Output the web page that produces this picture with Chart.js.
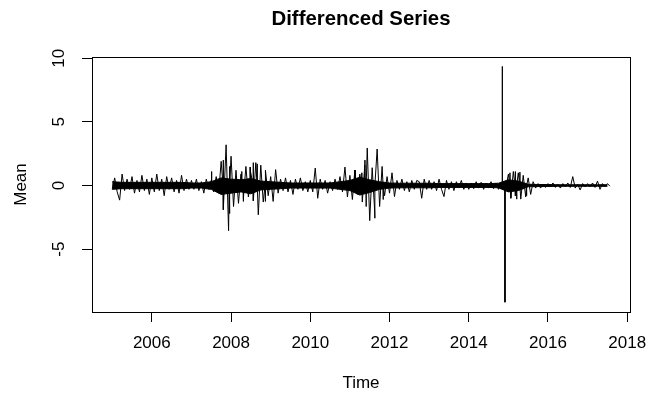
<!DOCTYPE html>
<html>
<head>
<meta charset="utf-8">
<script src="https://cdn.jsdelivr.net/npm/chart.js@4"></script>
<style>
  html, body { margin: 0; padding: 0; background: #fff; }
  canvas { display: block; }
</style>
</head>
<body>
<canvas id="diffChart" width="663" height="394"></canvas>
<script>
// series as a ts: start + frequency (one row per year)
const tsStart = 2005;
const tsFrequency = 16;
const diffValues = [
  -0.3, 0.6, -0.5, -1.15, 0.9, -0.4, 0.5, -0.3, 0.7, -0.6, 0.4, -0.5, 0.8, -0.4, 0.5, -0.7,   // 2005
  0.6, -0.5, 0.9, -0.4, 0.5, -0.8, 0.7, -0.3, 0.6, -0.5, 0.4, -0.6, 0.8, -0.4, 0.5, -0.3,     // 2006
  0.4, -0.3, 0.5, -0.4, 0.3, -0.6, 0.5, -0.3, 0.4, -0.5, 0.7, -0.6, 1.9, -1.9, 3.2, -3.55,    // 2007
  2.3, -1.65, 1.2, -1.4, 0.9, -1.0, 1.5, -0.9, 1.1, -1.2, 1.8, -2.3, 1.6, -1.3, 1.2, -0.8,    // 2008
  0.7, -1.25, 1.25, -0.6, 0.5, -0.4, 0.6, -0.5, 0.4, -0.7, 0.5, -0.3, 0.6, -0.4, 0.3, -0.5,   // 2009
  0.4, -0.5, 1.37, -1.0, 0.5, -0.3, 0.4, -0.6, 0.3, -0.4, 0.5, -0.3, 0.7, -0.5, 1.45, -0.9,   // 2010
  0.8, -1.1, 1.2, -0.7, 0.9, -1.3, 1.6, 2.95, -2.76, 1.4, -2.0, 2.87, -1.65, 1.5, -0.8, 0.7,  // 2011
  -0.6, 1.0, -0.87, 0.4, -0.3, 0.5, -0.4, 0.3, -0.5, 0.4, -0.3, 0.4, 0.3, -1.0, 0.5, -0.3,    // 2012
  0.4, -0.3, 0.3, -0.4, 0.5, -0.3, -0.87, 0.4, -0.3, 0.3, -0.4, 0.3, -0.2, 0.4, -0.3, 0.2,    // 2013
  -0.3, 0.2, -0.25, 0.3, -0.2, 0.25, -0.3, 0.2, -0.2, 0.3, -0.25, 0.2, -0.3, 0.25, 0.2, -0.2, // 2014
  0.9, -1.0, 1.1, -0.8, 1.0, -1.07, 0.8, -0.9, 0.6, -0.7, 0.3, -0.2, 0.15, -0.2, 0.1, -0.15,  // 2015
  0.15, -0.1, 0.2, -0.15, 0.1, -0.2, 0.15, -0.1, 0.2, -0.15, 0.7, -0.2, 0.1, -0.35, 0.15, -0.1, // 2016
  0.15, -0.1, 0.2, -0.15, 0.35, -0.3, 0.15, -0.1, 0.15, -0.05                                 // 2017
];

// the big outlier jump (up, then back down a few weeks later)
const outlierTimes = [2014.843, 2014.846, 2014.849, 2014.911, 2014.914, 2014.917];
const outlierValues = [0.1, 9.36, -0.1, 0.1, -9.17, 0.1];

// single-day spikes inside the volatile stretches
const spikeTimes = [
  2007.51, 2007.80, 2007.955, 2007.97, 2008.27, 2008.31, 2008.48, 2008.56, 2008.66, 2008.86, 2008.87,
  2011.13, 2011.30, 2011.38, 2011.41, 2011.63, 2011.84,
  2015.04, 2015.17, 2015.21, 2015.29, 2015.46
];
const spikeValues = [
  1.1, 2.0, -2.2, 1.5, 1.1, -1.25, 1.45, 1.8, 1.7, 0.8, -1.25,
  1.2, 1.0, 2.0, -1.65, -2.57, -1.1,
  1.0, 1.1, -1.07, 1.05, -0.8
];

// the solid black core of the daily noise, read per quarter
const coreStart = 2005;
const coreFrequency = 4;
const coreUpper = [
  0.3, 0.25, 0.25, 0.25,    // 2005
  0.25, 0.25, 0.25, 0.25,   // 2006
  0.2, 0.2, 0.3, 0.6,       // 2007
  0.5, 0.45, 0.55, 0.35,    // 2008
  0.3, 0.25, 0.2, 0.2,      // 2009
  0.2, 0.2, 0.2, 0.3,       // 2010
  0.4, 0.65, 0.45, 0.3,     // 2011
  0.2, 0.18, 0.18, 0.18,    // 2012
  0.18, 0.15, 0.15, 0.15,   // 2013
  0.15, 0.15, 0.15, 0.18,   // 2014
  0.45, 0.35, 0.1, 0.08,    // 2015
  0.08, 0.06, 0.06, 0.06,   // 2016
  0.06, 0.06, 0.06          // 2017
];
const coreLower = [
  -0.3, -0.25, -0.25, -0.25,
  -0.25, -0.25, -0.25, -0.25,
  -0.2, -0.2, -0.3, -0.7,
  -0.6, -0.5, -0.65, -0.35,
  -0.3, -0.25, -0.2, -0.2,
  -0.2, -0.2, -0.2, -0.3,
  -0.4, -0.75, -0.55, -0.3,
  -0.2, -0.18, -0.18, -0.18,
  -0.18, -0.15, -0.15, -0.15,
  -0.15, -0.15, -0.15, -0.18,
  -0.5, -0.4, -0.1, -0.08,
  -0.08, -0.06, -0.06, -0.06,
  -0.06, -0.06, -0.06
];

const xTicks = [2006, 2008, 2010, 2012, 2014, 2016, 2018];
const yTicks = [-5, 0, 5, 10];

const FONT = "'Liberation Sans', Arial, sans-serif";

// build the point lists
let points = diffValues.map((v, i) => ({ x: tsStart + i / tsFrequency, y: v }));
outlierTimes.forEach((t, i) => points.push({ x: t, y: outlierValues[i] }));
// a spike leaves the zero line and comes straight back the next day
spikeTimes.forEach((t, i) => {
    points.push({ x: t - 0.002, y: 0 });
    points.push({ x: t, y: spikeValues[i] });
    points.push({ x: t + 0.002, y: 0 });
});
points.sort((a, b) => a.x - b.x);

const upperPts = coreUpper.map((v, i) => ({ x: coreStart + i / coreFrequency, y: v }));
const lowerPts = coreLower.map((v, i) => ({ x: coreStart + i / coreFrequency, y: v }));

// box around the plot region + main title over the plot, like R
const rPlotPlugin = {
    id: "rplot",
    afterDraw(chart) {
        const a = chart.chartArea;
        const ctx = chart.ctx;
        ctx.save();
        ctx.strokeStyle = "#000";
        ctx.lineWidth = 1;
        ctx.strokeRect(a.left + 0.5, a.top + 0.5, a.right - a.left, a.bottom - a.top);

        ctx.fillStyle = "#000";
        ctx.font = "bold 20.4px " + FONT;
        ctx.textAlign = "center";
        ctx.textBaseline = "middle";
        ctx.fillText("Differenced Series", (a.left + a.right) / 2, 19);
        ctx.restore();
    }
};

new Chart(document.getElementById("diffChart"), {
    type: "line",
    data: {
        datasets: [
            {
                label: "Differenced",
                data: points,
                borderColor: "#000",
                borderWidth: 1,
                pointRadius: 0,
                tension: 0,
                fill: false
            },
            {
                label: "core upper",
                data: upperPts,
                borderColor: "#000",
                borderWidth: 1,
                backgroundColor: "#000",
                pointRadius: 0,
                tension: 0,
                fill: "+1"
            },
            {
                label: "core lower",
                data: lowerPts,
                borderColor: "#000",
                borderWidth: 1,
                pointRadius: 0,
                tension: 0,
                fill: false
            }
        ]
    },
    options: {
        responsive: false,
        animation: false,
        devicePixelRatio: 1,
        layout: {
            padding: { top: 57, right: 33, bottom: 0, left: 0 }
        },
        plugins: {
            legend: { display: false },
            tooltip: { enabled: false },
            title: { display: false }
        },
        scales: {
            x: {
                type: "linear",
                min: 2004.49,
                max: 2018.07,
                afterBuildTicks: (scale) => {
                    scale.ticks = xTicks.map(v => ({ value: v }));
                },
                afterFit: (scale) => {
                    scale.height = 82;
                },
                grid: {
                    drawOnChartArea: false,
                    drawTicks: true,
                    tickLength: 10,
                    color: "#000"
                },
                border: { display: false },
                ticks: {
                    color: "#000",
                    font: { family: FONT, size: 17 },
                    padding: 11,
                    maxRotation: 0,
                    autoSkip: false,
                    callback: (v) => String(v)
                },
                title: {
                    display: true,
                    text: "Time",
                    color: "#000",
                    font: { family: FONT, size: 17, lineHeight: 1.2 },
                    padding: { top: 0, bottom: 0 }
                }
            },
            y: {
                type: "linear",
                min: -9.94,
                max: 10.1,
                afterBuildTicks: (scale) => {
                    scale.ticks = yTicks.map(v => ({ value: v }));
                },
                afterFit: (scale) => {
                    scale.width = 92;
                },
                grid: {
                    drawOnChartArea: false,
                    drawTicks: true,
                    tickLength: 10,
                    color: "#000"
                },
                border: { display: false },
                ticks: {
                    color: "#000",
                    font: { family: FONT, size: 17 },
                    padding: 13,
                    minRotation: 90,
                    maxRotation: 90,
                    crossAlign: "center",
                    autoSkip: false,
                    callback: (v) => String(v)
                },
                title: {
                    display: true,
                    text: "Mean",
                    color: "#000",
                    font: { family: FONT, size: 17, lineHeight: 1.2 },
                    padding: { top: 11, bottom: 0 }
                }
            }
        }
    },
    plugins: [rPlotPlugin]
});
</script>
</body>
</html>
